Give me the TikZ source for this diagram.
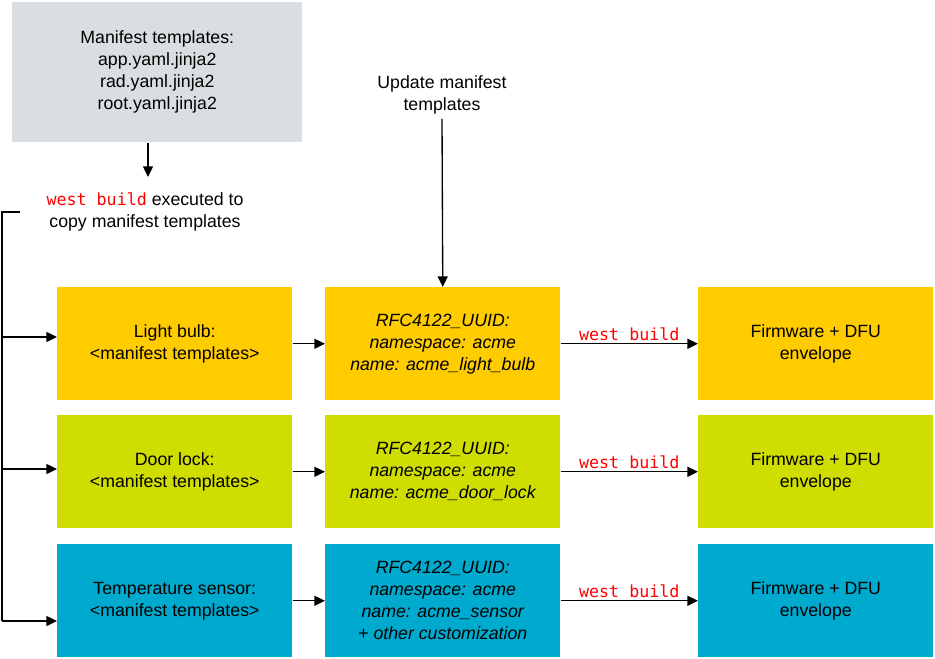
\documentclass[tikz,border=0pt]{standalone}
\usepackage{fontspec}
\setmainfont{Liberation Sans}
\newfontfamily\codefont{DejaVu Sans Mono}
\usetikzlibrary{arrows.meta}
\definecolor{greybox}{HTML}{D9DEE0}
\definecolor{yellowbox}{HTML}{FFCC00}
\definecolor{limebox}{HTML}{CFDD00}
\definecolor{bluebox}{HTML}{00A9CE}
\definecolor{codered}{HTML}{FF0000}
\newcommand{\wcode}[1]{{\codefont\fontsize{12.5}{16.5}\selectfont\color{codered}#1}}
\begin{document}
\begin{tikzpicture}[x=0.75pt,y=-0.75pt,
  font=\fontsize{13.3}{16.5}\selectfont,
  box/.style={minimum width=176.25pt,minimum height=84.75pt,align=center,inner sep=0pt,anchor=north west},
  conn/.style={line width=1pt,-{Triangle[length=8pt,width=7.5pt]}},
  plain/.style={line width=1pt}]
\useasboundingbox (0,0) rectangle (935,659);
% top grey box
\node[box,fill=greybox,minimum width=217.5pt,minimum height=105pt] (tmpl) at (12,2)
  {Manifest templates:\\app.yaml.jinja2\\rad.yaml.jinja2\\root.yaml.jinja2};
\node[align=center] (exec) at (145,212) {\wcode{west build} executed to\\copy manifest templates};
\node[align=center] (upd) at (442,95) {Update manifest\\templates};
% rows
\node[box,fill=yellowbox] (lb) at (57,287) {Light bulb:\\<manifest templates>};
\node[box,fill=yellowbox] (lbu) at (325,287) {\itshape RFC4122\_UUID:\\\itshape namespace: acme\\\itshape name: acme\_light\_bulb};
\node[box,fill=yellowbox] (lbf) at (698,287) {Firmware + DFU\\envelope};
\node[box,fill=limebox] (dl) at (57,415) {Door lock:\\<manifest templates>};
\node[box,fill=limebox] (dlu) at (325,415) {\itshape RFC4122\_UUID:\\\itshape namespace: acme\\\itshape name: acme\_door\_lock};
\node[box,fill=limebox] (dlf) at (698,415) {Firmware + DFU\\envelope};
\node[box,fill=bluebox] (ts) at (57,544) {Temperature sensor:\\<manifest templates>};
\node[box,fill=bluebox] (tsu) at (325,544) {\itshape RFC4122\_UUID:\\\itshape namespace: acme\\\itshape name: acme\_sensor\\\itshape + other customization};
\node[box,fill=bluebox] (tsf) at (698,544) {Firmware + DFU\\envelope};
% connectors
\draw[conn] (tmpl.south -| 148,0) -- (148,177);
\draw[conn] (upd.south) -- (lbu.north);
\coordinate (bt) at (20,212);
\coordinate (bc) at (2,212);
\coordinate (b1) at (2,337);
\coordinate (b2) at (2,469);
\coordinate (b3) at (2,621);
\draw[plain] (bt) -- (bc) -- (b3);
\draw[conn] (b1) -- (lb.west |- b1);
\draw[conn] (b2) -- (dl.west |- b2);
\draw[conn] (b3) -- (ts.west |- b3);
\foreach \r in {lb,dl,ts}{
  \draw[conn] (\r.east) -- (\r u.west);
  \draw[conn] (\r u.east) -- node[above=1pt,inner sep=1pt]{\wcode{west build}} (\r f.west);
}
\end{tikzpicture}
\end{document}
